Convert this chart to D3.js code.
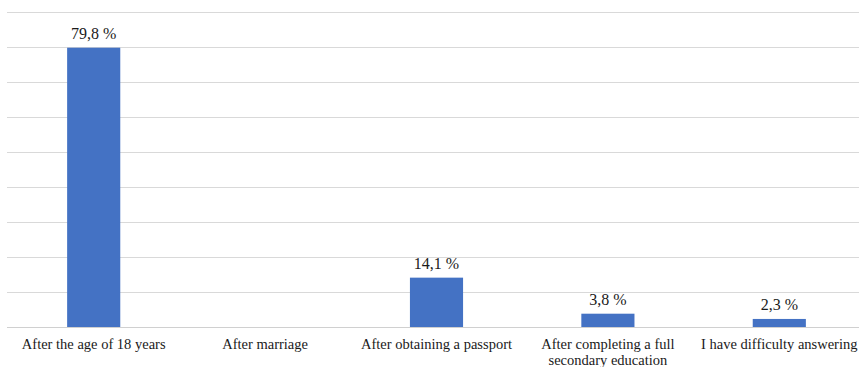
<!DOCTYPE html>
<html><head><meta charset="utf-8">
<script src="https://cdn.jsdelivr.net/npm/d3@7"></script>
<style>body{margin:0;background:#fff}svg{display:block}</style>
</head><body>
<svg id="c" width="859" height="367"></svg>
<script>
const categories = [
  ["After the age of 18 years"],
  ["After marriage"],
  ["After obtaining a passport"],
  ["After completing a full", "secondary education"],
  ["I have difficulty answering"]
];
const values = [79.8, null, 14.1, 3.8, 2.3];
const valueLabels = ["79,8 %", "", "14,1 %", "3,8 %", "2,3 %"];
const gridTicks = [0,10,20,30,40,50,60,70,80,90];
const FONT = '"Liberation Serif"';

const svg = d3.select("#c");
const x = d3.scaleBand().domain(d3.range(categories.length)).range([8, 865]).paddingInner(0.69).paddingOuter(0.345);
const y = d3.scaleLinear().domain([0, 90]).range([327, 12]);

svg.append("g").selectAll("line").data(gridTicks).join("line")
  .attr("x1", 7).attr("x2", 859)
  .attr("y1", d => Math.round(y(d)) + 0.5).attr("y2", d => Math.round(y(d)) + 0.5)
  .attr("stroke", d => d === 0 ? "#d0d0d0" : "#d9d9d9").attr("stroke-width", 1);

const data = values.map((v, i) => ({i, v, label: valueLabels[i], cat: categories[i]}));

svg.append("g").selectAll("rect").data(data.filter(d => d.v != null)).join("rect")
  .attr("x", d => x(d.i)).attr("width", x.bandwidth())
  .attr("y", d => y(d.v)).attr("height", d => y(0) - y(d.v))
  .attr("fill", "#4472c4");

svg.append("g").selectAll("text").data(data.filter(d => d.v != null)).join("text")
  .attr("x", d => x(d.i) + x.bandwidth()/2).attr("y", d => y(d.v) - 9)
  .attr("text-anchor", "middle")
  .style("font-family", FONT).style("font-size", "16px").style("fill", "#1a1a1a")
  .text(d => d.label);

const cl = svg.append("g").selectAll("text").data(data).join("text")
  .attr("x", d => x(d.i) + x.bandwidth()/2).attr("y", 349)
  .attr("text-anchor", "middle")
  .style("font-family", FONT).style("font-size", "14.5px").style("fill", "#1a1a1a");
cl.selectAll("tspan").data(d => d.cat.map(t => ({t, x: x(d.i) + x.bandwidth()/2}))).join("tspan")
  .attr("x", t => t.x).attr("dy", (t, j) => j === 0 ? 0 : 16).text(t => t.t);
</script>
</body></html>
